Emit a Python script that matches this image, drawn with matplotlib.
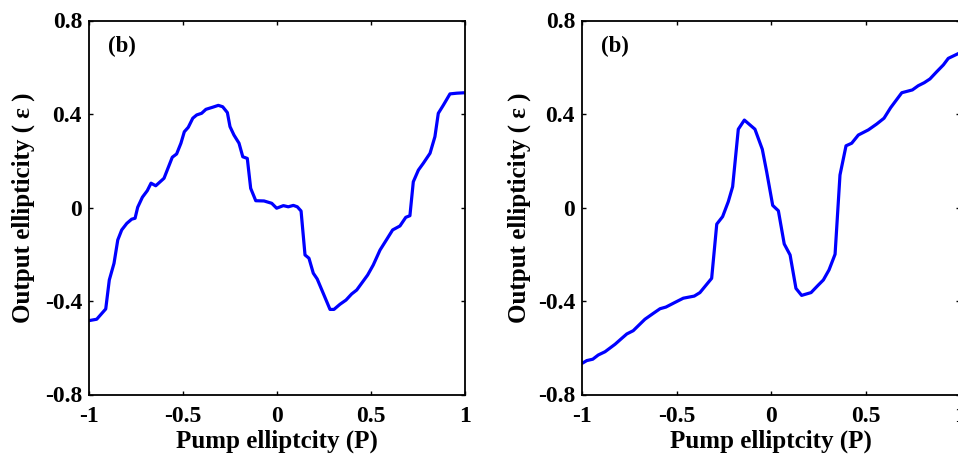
import numpy as np
import matplotlib
matplotlib.use('Agg')
import matplotlib.pyplot as plt

plt.rcParams['font.family'] = ['Liberation Serif', 'DejaVu Serif']
plt.rcParams['font.weight'] = 'bold'
plt.rcParams['axes.unicode_minus'] = False

# pump ellipticity / output ellipticity, panel 1
p_left = [-1.000, -0.959, -0.911, -0.892, -0.867, -0.847, -0.826, -0.799, -0.773, -0.755,
          -0.741, -0.716, -0.690, -0.670, -0.645, -0.601, -0.557, -0.534, -0.511, -0.493,
          -0.472, -0.448, -0.427, -0.401, -0.378, -0.342, -0.312, -0.289, -0.264, -0.250,
          -0.229, -0.202, -0.182, -0.158, -0.140, -0.113, -0.069, -0.028, -0.002, 0.034,
          0.060, 0.087, 0.108, 0.128, 0.149, 0.170, 0.193, 0.214, 0.282, 0.303,
          0.335, 0.367, 0.397, 0.424, 0.482, 0.512, 0.548, 0.584, 0.615, 0.654,
          0.685, 0.707, 0.725, 0.752, 0.778, 0.814, 0.840, 0.858, 0.885, 0.920,
          0.956, 1.000]
e_left = [-0.484, -0.478, -0.434, -0.310, -0.239, -0.139, -0.096, -0.068, -0.050, -0.046,
          0.001, 0.044, 0.072, 0.104, 0.093, 0.125, 0.215, 0.229, 0.275, 0.324,
          0.343, 0.382, 0.396, 0.403, 0.420, 0.429, 0.437, 0.431, 0.406, 0.346,
          0.310, 0.275, 0.217, 0.210, 0.082, 0.029, 0.028, 0.018, -0.003, 0.008,
          0.003, 0.009, 0.003, -0.015, -0.203, -0.217, -0.281, -0.306, -0.436, -0.436,
          -0.414, -0.396, -0.370, -0.353, -0.289, -0.246, -0.182, -0.136, -0.096, -0.079,
          -0.042, -0.035, 0.110, 0.160, 0.189, 0.232, 0.303, 0.403, 0.438, 0.486,
          0.489, 0.491]

# panel 2
p_right = [-1.000, -0.975, -0.943, -0.914, -0.878, -0.825, -0.790, -0.763, -0.729, -0.667,
           -0.623, -0.587, -0.556, -0.508, -0.464, -0.406, -0.376, -0.314, -0.287, -0.256,
           -0.226, -0.203, -0.173, -0.141, -0.085, -0.046, -0.023, 0.009, 0.039, 0.070,
           0.101, 0.132, 0.162, 0.212, 0.250, 0.277, 0.307, 0.339, 0.365, 0.397,
           0.427, 0.462, 0.515, 0.559, 0.598, 0.633, 0.692, 0.748, 0.779, 0.811,
           0.841, 0.877, 0.912, 0.938, 1.000]
e_right = [-0.667, -0.655, -0.649, -0.631, -0.617, -0.585, -0.560, -0.541, -0.527, -0.478,
           -0.453, -0.433, -0.426, -0.406, -0.388, -0.379, -0.364, -0.303, -0.071, -0.039,
           0.025, 0.089, 0.335, 0.374, 0.335, 0.249, 0.153, 0.009, -0.014, -0.156,
           -0.203, -0.346, -0.376, -0.364, -0.332, -0.310, -0.267, -0.200, 0.139, 0.264,
           0.275, 0.310, 0.332, 0.357, 0.382, 0.427, 0.491, 0.503, 0.521, 0.534,
           0.550, 0.581, 0.610, 0.638, 0.662]

xticks = [-1, -0.5, 0, 0.5, 1]
xticklabels = ['-1', '-0.5', '0', '0.5', '1']
yticks = [-0.8, -0.4, 0, 0.4, 0.8]
yticklabels = ['-0.8', '-0.4', '0', '0.4', '0.8']

fig = plt.figure(figsize=(9.58, 4.58), dpi=100)
W, H = 958.0, 458.0
ax1 = fig.add_axes([89 / W, 63.5 / H, 376 / W, 374 / H])
ax2 = fig.add_axes([582 / W, 63.5 / H, 378 / W, 374 / H])

for ax, p, e, ylab_x in [(ax1, p_left, e_left, -0.143), (ax2, p_right, e_right, -0.135)]:
    ax.plot(p, e, color='#0000ff', lw=2.3)
    ax.set_xlim(-1, 1)
    ax.set_ylim(-0.8, 0.8)
    ax.set_xticks(xticks)
    ax.set_xticklabels(xticklabels)
    ax.set_yticks(yticks)
    ax.set_yticklabels(yticklabels)
    ax.tick_params(direction='in', length=3, width=1, top=True, right=True,
                   labelsize=17)
    ax.tick_params(axis='x', pad=8)
    ax.tick_params(axis='y', pad=5)
    for s in ax.spines.values():
        s.set_linewidth(1.3)
    ax.set_xlabel('Pump elliptcity (P)', fontsize=18, fontweight='bold')
    ax.set_ylabel('Output ellipticity ( ε )', fontsize=18, fontweight='bold')
    ax.xaxis.set_label_coords(0.5, -0.095)
    ax.yaxis.set_label_coords(ylab_x, 0.5)
    ax.text(-0.9, 0.688, '(b)', fontsize=16.5, fontweight='bold', va='center', ha='left')

fig.savefig('out.png', dpi=100)
